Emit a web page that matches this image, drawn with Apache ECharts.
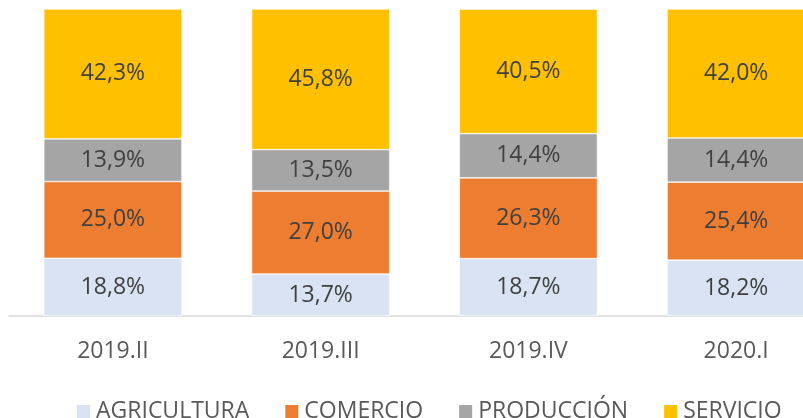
<!DOCTYPE html>
<html>
<head>
<meta charset="utf-8">
<script src="https://cdn.jsdelivr.net/npm/echarts@6/dist/echarts.min.js"></script>
<style>
  html, body { margin: 0; padding: 0; background: #fff; overflow: hidden; }
  #chart { width: 840px; height: 418px; }
</style>
</head>
<body>
<div id="chart"></div>
<script>
const periods = ['2019.II', '2019.III', '2019.IV', '2020.I']
const agricultura = [18.8, 13.7, 18.7, 18.2]
const comercio = [25.0, 27.0, 26.3, 25.4]
const produccion = [13.9, 13.5, 14.4, 14.4]
const servicio = [42.3, 45.8, 40.5, 42.0]

const font = '"Open Sans", "Liberation Sans", sans-serif'

function makeSeries(name, data, color) {
  return {
    name: name,
    type: 'bar',
    stack: 'total',
    barWidth: '66.5%',
    data: data,
    itemStyle: { color: color, borderColor: '#fff', borderWidth: 0.6 },
    label: {
      show: true,
      position: 'inside',
      color: '#404040',
      fontFamily: font,
      fontSize: 23,
      formatter: p => p.value.toFixed(1).replace('.', ',') + '%'
    }
  }
}

// the original chart is wider than the window, its right edge is cut off
const chart = echarts.init(document.getElementById('chart'))
chart.setOption({
  animation: false,
  grid: { left: 9, top: 9, right: 0, height: 307 },
  legend: {
    left: 70,
    top: 395,
    itemWidth: 15,
    itemHeight: 15,
    itemGap: 34,
    icon: 'rect',
    textStyle: { color: '#595959', fontFamily: font, fontSize: 23 },
    data: ['AGRICULTURA', 'COMERCIO', 'PRODUCCIÓN', 'SERVICIO']
  },
  xAxis: {
    type: 'category',
    data: periods,
    axisLine: { lineStyle: { color: '#d9d9d9', width: 1.5 } },
    axisTick: { show: false },
    axisLabel: { color: '#595959', fontFamily: font, fontSize: 23, margin: 24 }
  },
  yAxis: {
    type: 'value',
    min: 0,
    max: 100,
    show: false
  },
  series: [
    makeSeries('AGRICULTURA', agricultura, '#dae3f3'),
    makeSeries('COMERCIO', comercio, '#ed7d31'),
    makeSeries('PRODUCCIÓN', produccion, '#a5a5a5'),
    makeSeries('SERVICIO', servicio, '#ffc000')
  ]
})
</script>
</body>
</html>
